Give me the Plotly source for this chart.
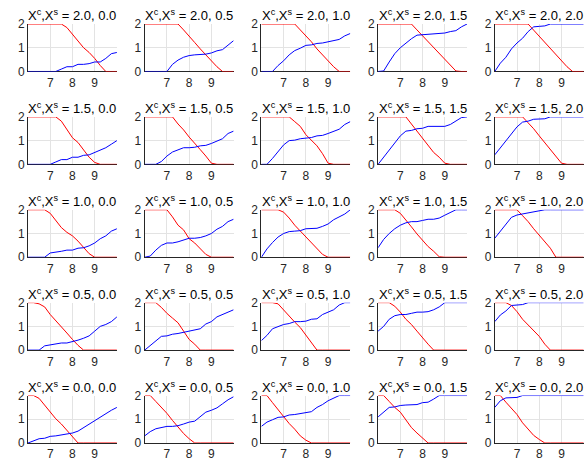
import plotly.graph_objects as go

# ---------------- data ----------------
x_vals = [6.0, 6.25, 6.5, 6.75, 7.0, 7.25, 7.5, 7.75, 8.0, 8.25, 8.5, 8.75, 9.0, 9.25, 9.5, 9.75, 10.0]
xc_levels = [2.0, 1.5, 1.0, 0.5, 0.0]   # rows
xs_levels = [0.0, 0.5, 1.0, 1.5, 2.0]   # columns
x_ticks = [7, 8, 9]
y_ticks = [0, 1, 2]

# Xc = 2.0
red_20_00 = [2, 2, 2, 2, 2, 2, 2, 1.85, 1.55, 1.3, 1.0, 0.8, 0.55, 0.25, 0, 0, 0]
blue_20_00 = [0, 0, 0, 0, 0, 0, 0.1, 0.2, 0.2, 0.3, 0.3, 0.33, 0.4, 0.4, 0.55, 0.75, 0.8]
red_20_05 = [2, 2, 2, 2, 2, 2, 2, 1.75, 1.5, 1.22, 0.95, 0.7, 0.45, 0.2, 0, 0, 0]
blue_20_05 = [0, 0, 0, 0, 0, 0.3, 0.48, 0.6, 0.67, 0.7, 0.7, 0.73, 0.78, 0.87, 0.92, 1.1, 1.3]
red_20_10 = [2, 2, 2, 2, 2, 2, 2, 1.75, 1.5, 1.25, 0.95, 0.7, 0.45, 0.2, 0, 0, 0]
blue_20_10 = [0, 0, 0, 0.25, 0.45, 0.7, 0.88, 0.98, 1.1, 1.12, 1.18, 1.2, 1.25, 1.3, 1.35, 1.5, 1.6]
red_20_15 = [2, 2, 2, 2, 2, 2, 2, 1.75, 1.5, 1.25, 1.0, 0.75, 0.5, 0.25, 0.02, 0, 0]
blue_20_15 = [0, 0.02, 0.4, 0.75, 1.0, 1.2, 1.38, 1.53, 1.55, 1.58, 1.6, 1.6, 1.62, 1.68, 1.72, 1.88, 2.0]
red_20_20 = [2, 2, 2, 2, 2, 2, 2, 1.74, 1.49, 1.23, 0.97, 0.72, 0.46, 0.2, 0, 0, 0]
blue_20_20 = [0, 0.35, 0.6, 0.95, 1.2, 1.4, 1.68, 1.88, 1.9, 1.92, 2, 2, 2, 2, 2, 2, 2]

# Xc = 1.5
red_15_00 = [2, 2, 2, 2, 2, 2, 1.82, 1.45, 1.12, 0.92, 0.6, 0.3, 0.08, 0, 0, 0, 0]
blue_15_00 = [0, 0, 0, 0, 0, 0.1, 0.2, 0.2, 0.3, 0.3, 0.38, 0.4, 0.5, 0.6, 0.7, 0.85, 1.0]
red_15_05 = [2, 2, 2, 2, 2, 2, 1.7, 1.45, 1.15, 0.9, 0.62, 0.35, 0.05, 0, 0, 0, 0]
blue_15_05 = [0, 0, 0, 0.12, 0.35, 0.52, 0.62, 0.7, 0.7, 0.72, 0.78, 0.8, 0.88, 0.98, 1.08, 1.3, 1.4]
red_15_10 = [2, 2, 2, 2, 2, 2, 1.8, 1.6, 1.25, 1.0, 0.78, 0.45, 0.05, 0, 0, 0, 0]
blue_15_10 = [0, 0, 0.25, 0.55, 0.82, 1.0, 1.02, 1.08, 1.1, 1.13, 1.2, 1.22, 1.3, 1.38, 1.48, 1.68, 1.8]
red_15_15 = [2, 2, 2, 2, 2, 2, 1.7, 1.4, 1.05, 0.8, 0.5, 0.3, 0.05, 0, 0, 0, 0]
blue_15_15 = [0, 0.3, 0.6, 0.9, 1.2, 1.4, 1.43, 1.5, 1.52, 1.6, 1.6, 1.6, 1.6, 1.68, 1.82, 1.97, 2.0]
red_15_20 = [2, 2, 2, 2, 2, 2, 1.75, 1.5, 1.2, 0.9, 0.6, 0.35, 0.05, 0, 0, 0, 0]
blue_15_20 = [0.4, 0.7, 1.0, 1.3, 1.58, 1.78, 1.82, 1.9, 1.9, 1.92, 2, 2, 2, 2, 2, 2, 2]

# Xc = 1.0
red_10_00 = [2, 2, 2, 2, 1.85, 1.55, 1.25, 1.05, 0.9, 0.68, 0.42, 0.15, 0, 0, 0, 0, 0]
blue_10_00 = [0, 0, 0, 0, 0.18, 0.2, 0.25, 0.3, 0.3, 0.38, 0.4, 0.48, 0.6, 0.78, 0.9, 1.1, 1.2]
red_10_05 = [2, 2, 2, 2, 2, 1.7, 1.35, 1.15, 0.78, 0.6, 0.35, 0.12, 0, 0, 0, 0, 0]
blue_10_05 = [0, 0.05, 0.3, 0.5, 0.6, 0.6, 0.65, 0.72, 0.8, 0.8, 0.83, 0.9, 1.0, 1.18, 1.3, 1.5, 1.6]
red_10_10 = [2, 2, 2, 2, 1.9, 1.65, 1.35, 1.1, 0.85, 0.6, 0.35, 0.12, 0, 0, 0, 0, 0]
blue_10_10 = [0, 0.35, 0.62, 0.85, 1.0, 1.08, 1.1, 1.12, 1.2, 1.2, 1.22, 1.3, 1.4, 1.58, 1.7, 1.82, 2.0]
red_10_15 = [2, 2, 2, 2, 1.85, 1.58, 1.28, 0.98, 0.72, 0.45, 0.25, 0.02, 0, 0, 0, 0, 0]
blue_10_15 = [0.4, 0.75, 1.0, 1.2, 1.35, 1.45, 1.5, 1.5, 1.55, 1.6, 1.6, 1.65, 1.77, 1.9, 2, 2, 2]
red_10_20 = [2, 2, 2, 2, 2, 1.75, 1.5, 1.2, 0.92, 0.65, 0.38, 0, 0, 0, 0, 0, 0]
blue_10_20 = [0.8, 1.1, 1.38, 1.68, 1.78, 1.82, 1.85, 1.9, 1.93, 2, 2, 2, 2, 2, 2, 2, 2]

# Xc = 0.5
red_05_00 = [2, 2, 1.95, 1.82, 1.5, 1.25, 0.98, 0.72, 0.45, 0.2, 0, 0, 0, 0, 0, 0, 0]
blue_05_00 = [0, 0, 0, 0.18, 0.22, 0.27, 0.3, 0.3, 0.35, 0.42, 0.5, 0.6, 0.8, 1.0, 1.08, 1.2, 1.4]
red_05_05 = [2, 2, 2, 1.8, 1.55, 1.35, 1.15, 0.8, 0.45, 0.25, 0, 0, 0, 0, 0, 0, 0]
blue_05_05 = [0, 0.2, 0.4, 0.58, 0.6, 0.67, 0.7, 0.75, 0.8, 0.85, 0.9, 1.1, 1.2, 1.4, 1.5, 1.6, 1.7]
red_05_10 = [2, 2, 2, 1.95, 1.68, 1.45, 1.18, 0.95, 0.65, 0.3, 0, 0, 0, 0, 0, 0, 0]
blue_05_10 = [0.4, 0.62, 0.9, 1.0, 1.08, 1.12, 1.2, 1.2, 1.22, 1.3, 1.32, 1.5, 1.6, 1.7, 1.9, 2, 2]
red_05_15 = [2, 2, 2, 1.85, 1.6, 1.3, 1.08, 0.8, 0.5, 0.25, 0, 0, 0, 0, 0, 0, 0]
blue_05_15 = [0.8, 1.0, 1.3, 1.45, 1.5, 1.5, 1.55, 1.6, 1.6, 1.62, 1.7, 1.82, 2, 2, 2, 2, 2]
red_05_20 = [2, 2, 2, 1.88, 1.62, 1.3, 1.05, 0.82, 0.58, 0.25, 0, 0, 0, 0, 0, 0, 0]
blue_05_20 = [1.2, 1.48, 1.65, 1.88, 1.9, 1.92, 2, 2, 2, 2, 2, 2, 2, 2, 2, 2, 2]

# Xc = 0.0
red_00_00 = [2, 2, 1.88, 1.58, 1.32, 1.02, 0.8, 0.52, 0.25, 0, 0, 0, 0, 0, 0, 0, 0]
blue_00_00 = [0, 0.1, 0.18, 0.2, 0.28, 0.3, 0.33, 0.38, 0.42, 0.5, 0.65, 0.8, 0.95, 1.08, 1.25, 1.38, 1.5]
red_00_05 = [2, 2, 1.75, 1.5, 1.25, 0.95, 0.65, 0.4, 0.18, 0, 0, 0, 0, 0, 0, 0, 0]
blue_00_05 = [0.3, 0.48, 0.6, 0.66, 0.7, 0.7, 0.73, 0.8, 0.88, 0.92, 1.12, 1.3, 1.38, 1.48, 1.65, 1.82, 1.95]
red_00_10 = [2, 2, 1.7, 1.4, 1.15, 0.82, 0.58, 0.3, 0.12, 0, 0, 0, 0, 0, 0, 0, 0]
blue_00_10 = [0.7, 0.88, 0.98, 1.08, 1.1, 1.18, 1.2, 1.25, 1.3, 1.32, 1.5, 1.62, 1.78, 1.9, 2, 2, 2]
red_00_15 = [2, 2, 1.75, 1.5, 1.3, 1.0, 0.65, 0.42, 0.2, 0, 0, 0, 0, 0, 0, 0, 0]
blue_00_15 = [1.1, 1.3, 1.5, 1.52, 1.58, 1.6, 1.6, 1.62, 1.7, 1.72, 1.85, 2, 2, 2, 2, 2, 2]
red_00_20 = [2, 2, 1.72, 1.45, 1.2, 0.85, 0.58, 0.32, 0.15, 0, 0, 0, 0, 0, 0, 0, 0]
blue_00_20 = [1.5, 1.78, 1.9, 1.9, 1.92, 2, 2, 2, 2, 2, 2, 2, 2, 2, 2, 2, 2]

red_rows = [
    [red_20_00, red_20_05, red_20_10, red_20_15, red_20_20],
    [red_15_00, red_15_05, red_15_10, red_15_15, red_15_20],
    [red_10_00, red_10_05, red_10_10, red_10_15, red_10_20],
    [red_05_00, red_05_05, red_05_10, red_05_15, red_05_20],
    [red_00_00, red_00_05, red_00_10, red_00_15, red_00_20],
]
blue_rows = [
    [blue_20_00, blue_20_05, blue_20_10, blue_20_15, blue_20_20],
    [blue_15_00, blue_15_05, blue_15_10, blue_15_15, blue_15_20],
    [blue_10_00, blue_10_05, blue_10_10, blue_10_15, blue_10_20],
    [blue_05_00, blue_05_05, blue_05_10, blue_05_15, blue_05_20],
    [blue_00_00, blue_00_05, blue_00_10, blue_00_15, blue_00_20],
]

# ---------------- layout geometry (pixels) ----------------
W, H = 584, 466
ML, MT, MB, MR = 27.5, 24.3, 23.3, 0.0
AW, AH = W - ML - MR, H - MT - MB          # plotting region
COL_STEP, PW = 116.8, 89.0
ROW_STEP, PH = 92.75, 47.4

FONT = "Liberation Sans, Arial, Helvetica, sans-serif"
fig = go.Figure()
layout = {}
annotations = []

for r in range(5):
    for c in range(5):
        i = r * 5 + c + 1
        xa = "x" if i == 1 else f"x{i}"
        ya = "y" if i == 1 else f"y{i}"
        fig.add_trace(go.Scatter(x=x_vals, y=red_rows[r][c], xaxis=xa, yaxis=ya, mode="lines",
                                 line=dict(color="#ff0000", width=1), showlegend=False, hoverinfo="skip"))
        fig.add_trace(go.Scatter(x=x_vals, y=blue_rows[r][c], xaxis=xa, yaxis=ya, mode="lines",
                                 line=dict(color="#0000ff", width=1), showlegend=False, hoverinfo="skip"))
        left = c * COL_STEP
        top = r * ROW_STEP
        xkey = "xaxis" if i == 1 else f"xaxis{i}"
        ykey = "yaxis" if i == 1 else f"yaxis{i}"
        common = dict(showgrid=True, gridcolor="#e3e3e3", gridwidth=1, showline=True,
                      linecolor="#262626", linewidth=1, ticks="", zeroline=False,
                      layer="below traces", fixedrange=True, automargin=False,
                      tickfont=dict(family=FONT, size=12, color="#262626"))
        layout[xkey] = dict(domain=[left / AW, min(1.0, (left + PW) / AW)], range=[6, 10],
                            tickvals=x_ticks, ticktext=[str(t) for t in x_ticks],
                            anchor=ya, **common)
        layout[ykey] = dict(domain=[max(0.0, 1 - (top + PH) / AH), 1 - top / AH], range=[0, 2],
                            tickvals=y_ticks, ticktext=[str(t) for t in y_ticks],
                            anchor=xa, **common)
        annotations.append(dict(
            x=(left + PW / 2) / AW, y=1 - (top + 1) / AH, xref="paper", yref="paper",
            xanchor="center", yanchor="bottom", showarrow=False,
            text=f"X<sup>c</sup>,X<sup>s</sup> = {xc_levels[r]:.1f}, {xs_levels[c]:.1f}",
            font=dict(family=FONT, size=13, color="#000000")))

fig.update_layout(width=W, height=H, autosize=False,
                  margin=dict(l=ML, r=MR, t=MT, b=MB, pad=0),
                  paper_bgcolor="white", plot_bgcolor="white",
                  annotations=annotations, **layout)

fig.write_html("out.html", config={"displayModeBar": False},
               post_script="document.body.style.margin='0px';document.body.style.overflow='hidden';")
